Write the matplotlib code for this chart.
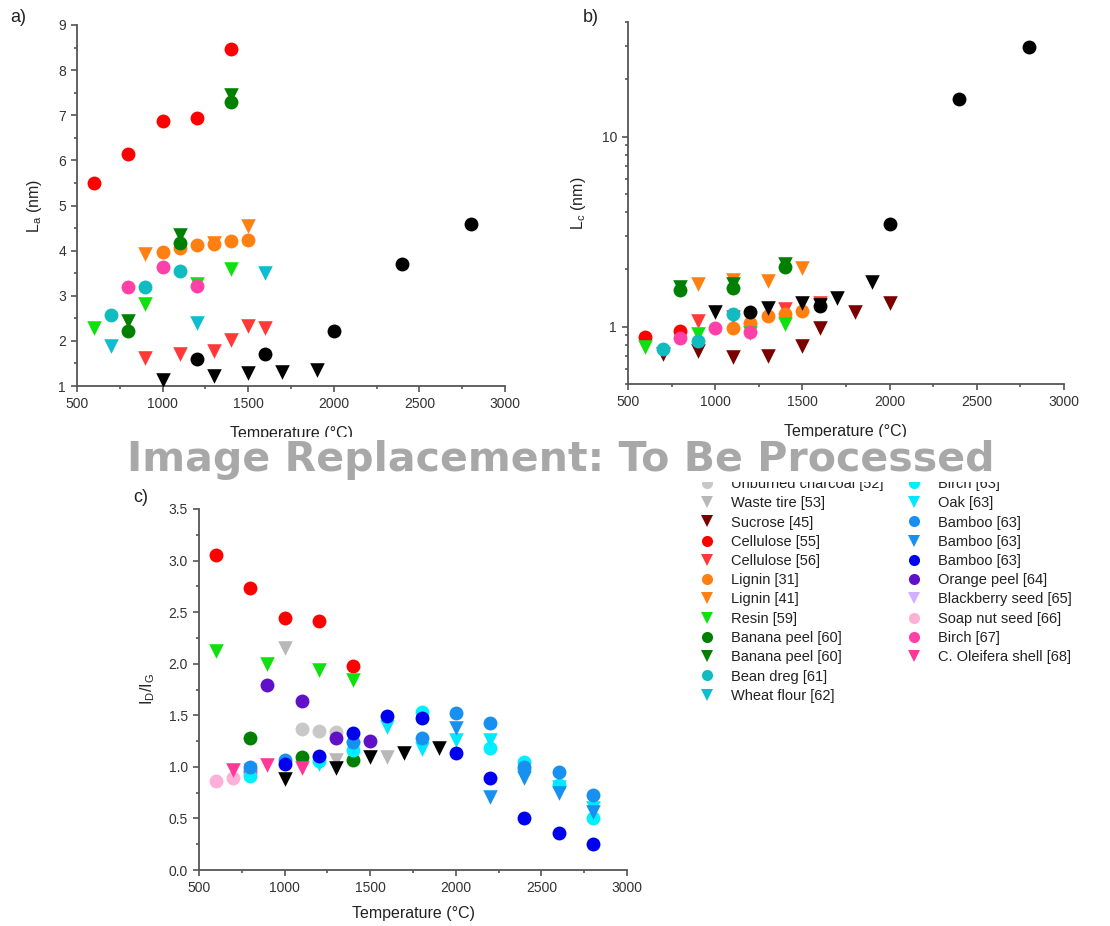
import matplotlib.pyplot as plt
from matplotlib.lines import Line2D
from matplotlib.patches import Rectangle
from matplotlib.ticker import MultipleLocator, FixedLocator, NullFormatter, FormatStrFormatter

plt.rcParams['font.family'] = ['Liberation Sans', 'DejaVu Sans']

# key -> (legend label, colour, marker); label None = not in the visible legend
STYLE = {
    'charcoal':    ('Unburned charcoal [52]', '#c8c8c8', 'o'),
    'tire':        ('Waste tire [53]', '#b8b8b8', 'v'),
    'sucrose':     ('Sucrose [45]', '#7a0000', 'v'),
    'cell55':      ('Cellulose [55]', '#ff0000', 'o'),
    'cell56':      ('Cellulose [56]', '#ff3838', 'v'),
    'lig31':       ('Lignin [31]', '#ff8010', 'o'),
    'lig41':       ('Lignin [41]', '#ff8010', 'v'),
    'resin':       ('Resin [59]', '#10e010', 'v'),
    'banana_c':    ('Banana peel [60]', '#008000', 'o'),
    'banana_t':    ('Banana peel [60]', '#008000', 'v'),
    'bean':        ('Bean dreg [61]', '#10bcc0', 'o'),
    'wheat':       ('Wheat flour [62]', '#10bcd0', 'v'),
    'birch63':     ('Birch [63]', '#00f0ff', 'o'),
    'oak':         ('Oak [63]', '#00e8ff', 'v'),
    'bamboo_c':    ('Bamboo [63]', '#1890f0', 'o'),
    'bamboo_t':    ('Bamboo [63]', '#1890f0', 'v'),
    'bamboo_b':    ('Bamboo [63]', '#0000f0', 'o'),
    'orange':      ('Orange peel [64]', '#6010c8', 'o'),
    'blackberry':  ('Blackberry seed [65]', '#d0b0ff', 'v'),
    'soapnut':     ('Soap nut seed [66]', '#ffb0d8', 'o'),
    'birch67':     ('Birch [67]', '#ff40a8', 'o'),
    'oleifera':    ('C. Oleifera shell [68]', '#ff3898', 'v'),
    'black_c':     (None, '#000000', 'o'),
    'black_t':     (None, '#000000', 'v'),
}

LEGEND_COL1 = ['charcoal', 'tire', 'sucrose', 'cell55', 'cell56', 'lig31', 'lig41',
               'resin', 'banana_c', 'banana_t', 'bean', 'wheat']
LEGEND_COL2 = ['birch63', 'oak', 'bamboo_c', 'bamboo_t', 'bamboo_b', 'orange',
               'blackberry', 'soapnut', 'birch67', 'oleifera']

# a) L_a (nm) vs temperature
LA = {
    'cell55':   ([600, 800, 1000, 1200, 1400], [5.5, 6.14, 6.87, 6.95, 8.46]),
    'lig31':    ([1000, 1100, 1200, 1300, 1400, 1500], [3.96, 4.05, 4.13, 4.15, 4.21, 4.23]),
    'lig41':    ([900, 1300, 1500], [3.93, 4.16, 4.55]),
    'resin':    ([600, 900, 1200, 1400], [2.28, 2.82, 3.27, 3.59]),
    'birch67':  ([800, 1000, 1200], [3.19, 3.64, 3.21]),
    'bean':     ([700, 900, 1100], [2.57, 3.19, 3.55]),
    'wheat':    ([700, 1200, 1600], [1.88, 2.39, 3.5]),
    'cell56':   ([900, 1100, 1300, 1400, 1500, 1600], [1.63, 1.70, 1.77, 2.01, 2.33, 2.29]),
    'banana_c': ([800, 1100, 1400], [2.22, 4.16, 7.30]),
    'banana_t': ([800, 1100, 1400], [2.43, 4.34, 7.44]),
    'black_c':  ([1200, 1600, 2000, 2400, 2800], [1.59, 1.70, 2.21, 3.70, 4.60]),
    'black_t':  ([1000, 1300, 1500, 1700, 1900], [1.14, 1.22, 1.29, 1.31, 1.35]),
}

# b) L_c (nm) vs temperature, log scale
LC = {
    'sucrose':  ([700, 900, 1100, 1300, 1500, 1600, 1800, 2000],
                 [0.72, 0.75, 0.69, 0.70, 0.79, 0.99, 1.19, 1.34]),
    'cell55':   ([600, 800], [0.88, 0.95]),
    'cell56':   ([900, 1100, 1400, 1600], [1.07, 1.12, 1.24, 1.33]),
    'lig31':    ([1100, 1200, 1300, 1400, 1500], [0.99, 1.05, 1.14, 1.16, 1.21]),
    'lig41':    ([900, 1100, 1300, 1500], [1.68, 1.76, 1.75, 2.03]),
    'resin':    ([600, 900, 1200, 1400], [0.78, 0.92, 0.93, 1.03]),
    'banana_t': ([800, 1100, 1400], [1.61, 1.68, 2.14]),
    'banana_c': ([800, 1100, 1400], [1.56, 1.60, 2.05]),
    'bean':     ([700, 900, 1100], [0.76, 0.84, 1.17]),
    'birch67':  ([800, 1000, 1200], [0.87, 0.98, 0.94]),
    'black_t':  ([1000, 1300, 1500, 1600, 1700, 1900], [1.19, 1.26, 1.33, 1.30, 1.41, 1.72]),
    'black_c':  ([1200, 1600, 2000, 2400, 2800], [1.19, 1.29, 3.47, 15.8, 29.5]),
}

# c) I_D/I_G vs temperature
IDIG = {
    'cell55':     ([600, 800, 1000, 1200, 1400], [3.05, 2.73, 2.44, 2.41, 1.98]),
    'resin':      ([600, 900, 1200, 1400], [2.12, 2.0, 1.94, 1.84]),
    'tire':       ([1000, 1300, 1600], [2.15, 1.07, 1.10]),
    'charcoal':   ([1100, 1200, 1300], [1.37, 1.35, 1.34]),
    'orange':     ([900, 1100, 1300, 1500], [1.79, 1.64, 1.28, 1.25]),
    'banana_c':   ([800, 1100, 1400], [1.28, 1.10, 1.07]),
    'soapnut':    ([600, 700, 800], [0.86, 0.89, 0.94]),
    'blackberry': ([800], [0.97]),
    'birch67':    ([800], [0.96]),
    'oleifera':   ([700, 900, 1100], [0.97, 1.02, 0.99]),
    'black_t':    ([1000, 1300, 1500, 1700, 1900], [0.88, 0.99, 1.10, 1.13, 1.18]),
    'birch63':    ([800, 1200, 1400, 1800, 2200, 2400, 2600, 2800],
                   [0.91, 1.06, 1.16, 1.53, 1.18, 1.05, 0.82, 0.50]),
    'oak':        ([1200, 1400, 1600, 1800, 2000, 2200, 2400, 2600, 2800],
                   [1.03, 1.18, 1.39, 1.17, 1.26, 1.26, 0.91, 0.80, 0.60]),
    'bamboo_c':   ([800, 1000, 1400, 1800, 2000, 2200, 2400, 2600, 2800],
                   [1.0, 1.07, 1.24, 1.28, 1.52, 1.43, 1.0, 0.95, 0.73]),
    'bamboo_t':   ([2000, 2200, 2400, 2600, 2800], [1.38, 0.71, 0.89, 0.75, 0.56]),
    'bamboo_b':   ([1000, 1200, 1400, 1600, 1800, 2000, 2200, 2400, 2600, 2800],
                   [1.03, 1.11, 1.33, 1.49, 1.47, 1.13, 0.89, 0.50, 0.36, 0.25]),
}


def draw(ax, data):
    for key, (temps, vals) in data.items():
        _, color, marker = STYLE[key]
        size = 100 if marker == 'o' else 110
        ax.scatter(temps, vals, s=size, c=color, marker=marker, linewidths=0, zorder=3)


def style_axes(ax):
    for side in ('top', 'right'):
        ax.spines[side].set_visible(False)
    for side in ('left', 'bottom'):
        ax.spines[side].set_color('#555555')
        ax.spines[side].set_linewidth(1.3)
    ax.tick_params(which='both', direction='out', colors='#555555', labelcolor='#333333',
                   labelsize=10, width=1.2)
    ax.tick_params(which='major', length=4, pad=4)
    ax.tick_params(which='minor', length=2.5)
    ax.set_xlim(500, 3000)
    ax.xaxis.set_major_locator(MultipleLocator(500))
    ax.xaxis.set_minor_locator(MultipleLocator(250))
    ax.set_xlabel('Temperature (°C)', fontsize=11.5, color='#222222', labelpad=11)


fig = plt.figure(figsize=(11.1, 9.26), dpi=100)
W, H = 1110, 926


def add_axes(left, top, right, bottom):
    return fig.add_axes([left / W, 1 - bottom / H, (right - left) / W, (bottom - top) / H])


ax_a = add_axes(77, 25, 505, 386)
ax_b = add_axes(628, 22, 1064, 384)
ax_c = add_axes(199, 509, 627, 870)

# a)
draw(ax_a, LA)
style_axes(ax_a)
ax_a.set_ylim(1, 9)
ax_a.yaxis.set_major_locator(MultipleLocator(1))
ax_a.yaxis.set_minor_locator(MultipleLocator(0.5))
ax_a.set_ylabel(r'L$_\mathregular{a}$ (nm)', fontsize=11.5, color='#222222', labelpad=10)

# b)
draw(ax_b, LC)
style_axes(ax_b)
ax_b.set_yscale('log')
ax_b.set_ylim(0.5, 40)
ax_b.yaxis.set_major_locator(FixedLocator([1, 10]))
ax_b.yaxis.set_major_formatter(FormatStrFormatter('%g'))
ax_b.yaxis.set_minor_locator(FixedLocator([0.5, 0.6, 0.7, 0.8, 0.9, 2, 3, 4, 5, 6, 7, 8, 9, 20, 30, 40]))
ax_b.yaxis.set_minor_formatter(NullFormatter())
ax_b.set_ylabel(r'L$_\mathregular{c}$ (nm)', fontsize=11.5, color='#222222', labelpad=10)

# c)
draw(ax_c, IDIG)
style_axes(ax_c)
ax_c.set_xlabel('Temperature (°C)', fontsize=11.5, color='#222222', labelpad=8)
ax_c.set_ylim(0, 3.5)
ax_c.yaxis.set_major_locator(MultipleLocator(0.5))
ax_c.yaxis.set_minor_locator(MultipleLocator(0.25))
ax_c.yaxis.set_major_formatter(FormatStrFormatter('%.1f'))
ax_c.set_ylabel(r'I$_\mathregular{D}$/I$_\mathregular{G}$', fontsize=11.5, color='#222222', labelpad=8)

fig.text(10 / W, 1 - 18 / H, 'a)', fontsize=13, va='center', color='#222222')
fig.text(583 / W, 1 - 18 / H, 'b)', fontsize=13, va='center', color='#222222')
fig.text(133 / W, 1 - 497 / H, 'c)', fontsize=13, va='center', color='#222222')


def legend_handles(keys):
    out = []
    for key in keys:
        label, color, marker = STYLE[key]
        out.append(Line2D([], [], linestyle='none', marker=marker, markersize=8,
                          markerfacecolor=color, markeredgewidth=0, label=label))
    return out


for keys, left in ((LEGEND_COL1, 700), (LEGEND_COL2, 907)):
    leg = fig.legend(handles=legend_handles(keys), loc='upper left',
                     bbox_to_anchor=(left / W, 1 - 477 / H), frameon=False,
                     fontsize=10.5, borderpad=0, borderaxespad=0, handlelength=1.0,
                     handletextpad=1.1, labelspacing=0.36, labelcolor='#222222')

# overlay box and placeholder text that sit on top of the original figure
fig.patches.append(Rectangle((120 / W, 1 - 482 / H), 885 / W, 45 / H,
                             transform=fig.transFigure, facecolor='white',
                             edgecolor='none', zorder=10))
fig.text(561 / W, 1 - 460 / H, 'Image Replacement: To Be Processed', family='DejaVu Sans',
         fontsize=29.6, fontweight='bold', color='#a8a8a8', ha='center', va='center', zorder=11)

fig.savefig('out.png', dpi=100, facecolor='white')
